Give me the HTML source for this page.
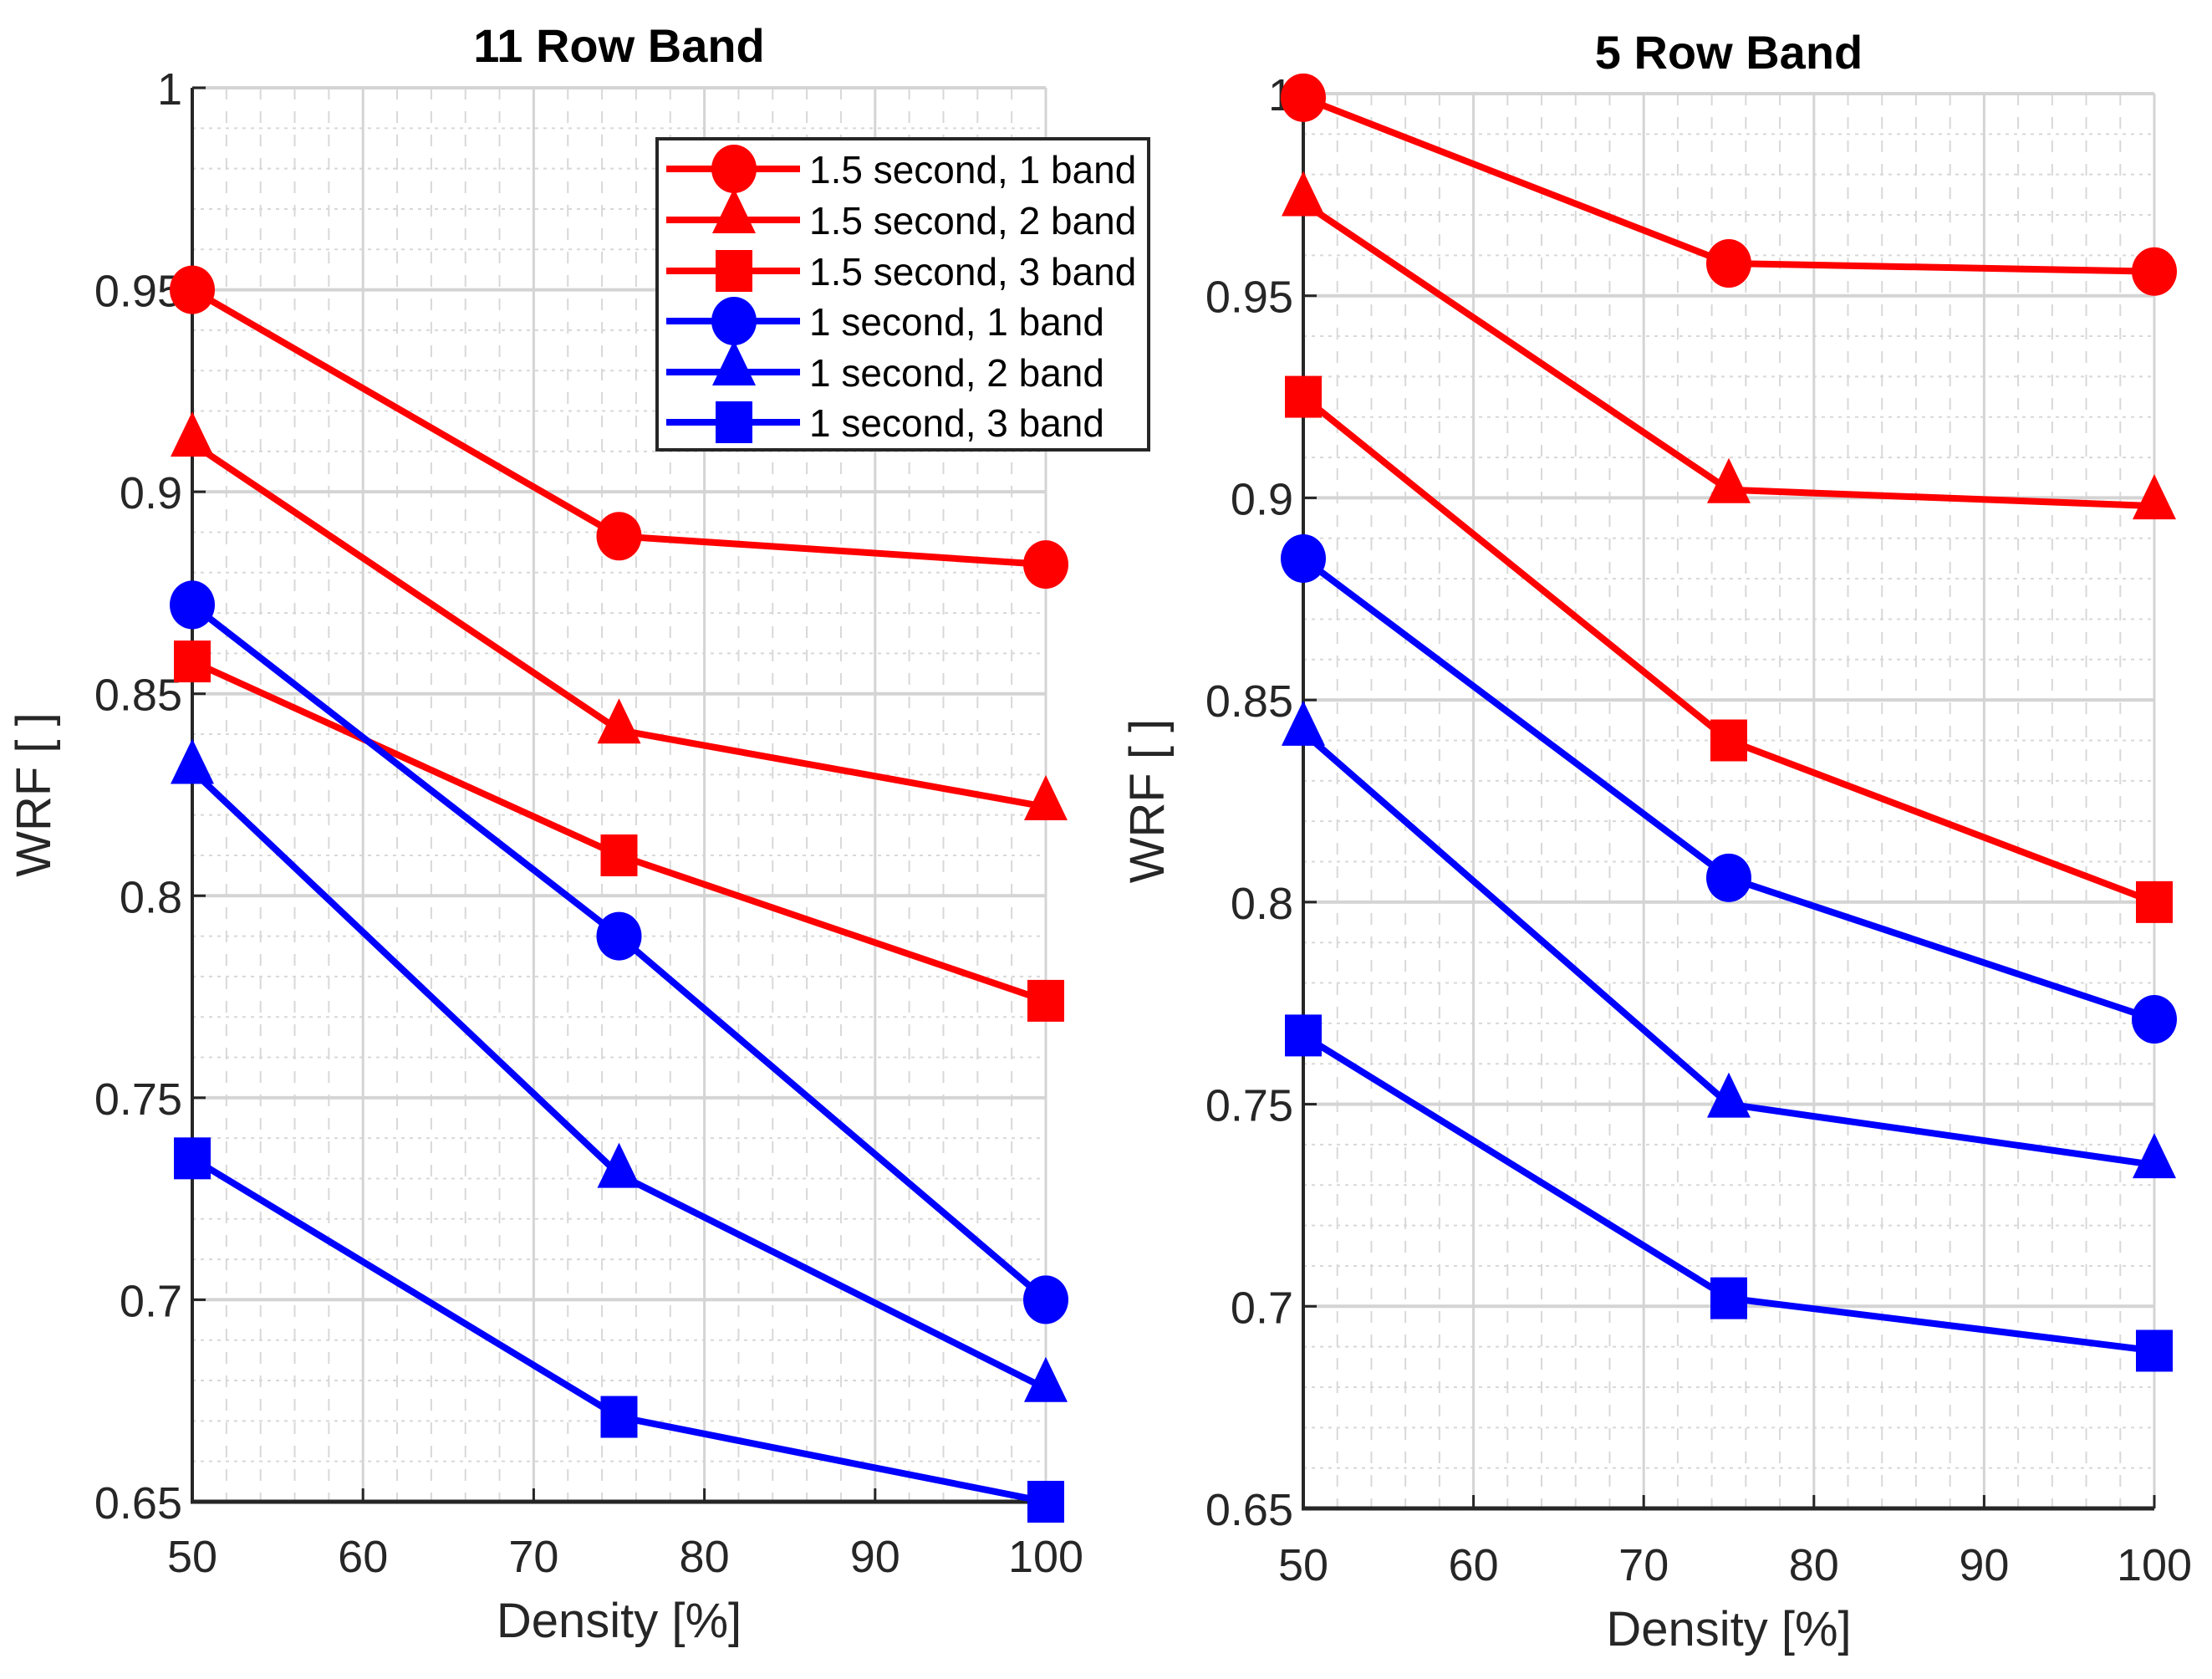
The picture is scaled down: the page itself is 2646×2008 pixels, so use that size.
<!DOCTYPE html>
<html><head><meta charset="utf-8"><style>
html,body{margin:0;padding:0;background:#fff;}
svg{display:block;font-family:"Liberation Sans",Arial,sans-serif;}
</style></head><body>
<svg id="chart" width="2646" height="2008" viewBox="0 0 2646 2008"></svg>
<script>
const xTicks=[50,60,70,80,90,100];
const yTicks=[0.65,0.7,0.75,0.8,0.85,0.9,0.95,1];
const yTickLabels=["0.65","0.7","0.75","0.8","0.85","0.9","0.95","1"];
const densities=[50,75,100];
const seriesNames=["1.5 second, 1 band","1.5 second, 2 band","1.5 second, 3 band","1 second, 1 band","1 second, 2 band","1 second, 3 band"];
const seriesColors=["#ff0000","#ff0000","#ff0000","#0000ff","#0000ff","#0000ff"];
const seriesMarkers=["circle","triangle","square","circle","triangle","square"];
const left_r15_b1=[0.950,0.889,0.882];
const left_r15_b2=[0.912,0.841,0.822];
const left_r15_b3=[0.858,0.810,0.774];
const left_r1_b1=[0.872,0.790,0.700];
const left_r1_b2=[0.831,0.731,0.678];
const left_r1_b3=[0.735,0.671,0.650];
const right_r15_b1=[0.999,0.958,0.956];
const right_r15_b2=[0.973,0.902,0.898];
const right_r15_b3=[0.925,0.840,0.800];
const right_r1_b1=[0.885,0.806,0.771];
const right_r1_b2=[0.842,0.750,0.735];
const right_r1_b3=[0.767,0.702,0.689];
const leftSeries=[left_r15_b1,left_r15_b2,left_r15_b3,left_r1_b1,left_r1_b2,left_r1_b3];
const rightSeries=[right_r15_b1,right_r15_b2,right_r15_b3,right_r1_b1,right_r1_b2,right_r1_b3];

const NS="http://www.w3.org/2000/svg";
const svg=document.getElementById('chart');
function mk(tag,attrs,parent){const e=document.createElementNS(NS,tag);for(const k in attrs)e.setAttribute(k,attrs[k]);(parent||svg).appendChild(e);return e;}

function marker(g,type,cx,cy,color){
  let m;
  if(type==="circle") m=mk('ellipse',{cx:cx,cy:cy,rx:27,ry:29,fill:color},g);
  else if(type==="square") m=mk('rect',{x:cx-22,y:cy-25,width:44,height:50,fill:color},g);
  else m=mk('polygon',{points:`${cx},${cy-38} ${cx+26},${cy+16} ${cx-26},${cy+16}`,fill:color},g);
  return m;
}

function drawPanel(name,title,L,R,T,B,series,wrfX,titleY,xlabY,tickY){
  const g=mk('g',{});
  
  
  const xs=v=>L+(v-50)/50*(R-L);
  const ys=v=>B-(v-0.65)/0.35*(B-T);
  for(let v=52;v<100;v+=2){ if(v%10===0)continue;
    const l=mk('line',{x1:xs(v),x2:xs(v),y1:T,y2:B,stroke:'#d8d8d8','stroke-width':2,'stroke-dasharray':'14 14'},g);
    }
  for(let i=1;i<35;i++){ if(i%5===0)continue; const v=0.65+i*0.01;
    const l=mk('line',{x1:L,x2:R,y1:ys(v),y2:ys(v),stroke:'#d8d8d8','stroke-width':2,'stroke-dasharray':'4 6'},g);
    }
  xTicks.forEach(v=>{const l=mk('line',{x1:xs(v),x2:xs(v),y1:T,y2:B,stroke:'#d4d4d4','stroke-width':3},g);
    });
  yTicks.forEach(v=>{const l=mk('line',{x1:L,x2:R,y1:ys(v),y2:ys(v),stroke:'#d4d4d4','stroke-width':4},g);
    });
  const ax=mk('line',{x1:L,x2:L,y1:T,y2:B+2,stroke:'#262626','stroke-width':4},g);
  
  const bx=mk('line',{x1:L-2,x2:R,y1:B,y2:B,stroke:'#262626','stroke-width':5},g);
  
  xTicks.forEach(v=>{mk('line',{x1:xs(v),x2:xs(v),y1:B,y2:B-16,stroke:'#262626','stroke-width':3},g);
    const t=mk('text',{x:xs(v),y:tickY,'text-anchor':'middle','font-size':54,fill:'#262626'},g);t.textContent=v;
    });
  yTicks.forEach((v,i)=>{mk('line',{x1:L,x2:L+16,y1:ys(v),y2:ys(v),stroke:'#262626','stroke-width':3},g);
    const t=mk('text',{x:L-12,y:ys(v)+20,'text-anchor':'end','font-size':54,fill:'#262626'},g);t.textContent=yTickLabels[i];
    });
  const tt=mk('text',{x:(L+R)/2,y:titleY,'text-anchor':'middle','font-size':56,'font-weight':'bold',fill:'#000'},g);tt.textContent=title;
  
  const xl=mk('text',{x:(L+R)/2,y:xlabY,'text-anchor':'middle','font-size':58,fill:'#262626'},g);xl.textContent='Density [%]';
  
  const yl=mk('text',{x:wrfX,y:(T+B)/2,'text-anchor':'middle','font-size':58,fill:'#262626',transform:`rotate(-90 ${wrfX} ${(T+B)/2})`},g);yl.textContent='WRF [ ]';
  
  series.forEach((vals,si)=>{
    const sg=mk('g',{},g);
    
    
    const pts=vals.map((v,i)=>xs(densities[i])+','+ys(v)).join(' ');
    const pl=mk('polyline',{points:pts,fill:'none',stroke:seriesColors[si],'stroke-width':8,'stroke-linejoin':'round'},sg);
    
    vals.forEach((v,i)=>{const m=marker(sg,seriesMarkers[si],xs(densities[i]),ys(v),seriesColors[si]);
      });
  });
  return g;
}

drawPanel('left-panel-11-row-band','11 Row Band',230,1251,105,1796,leftSeries,60,74,1958,1880);
drawPanel('right-panel-5-row-band','5 Row Band',1559,2577,112,1804,rightSeries,1392,82,1968,1890);

const lg=mk('g',{});


mk('rect',{x:786,y:166,width:588,height:372,fill:'#fff',stroke:'#262626','stroke-width':4},lg);
const legY=[202,263,324,384,445,505];
seriesNames.forEach((nm,i)=>{
  const eg=mk('g',{},lg);
  
  
  mk('line',{x1:797,x2:957,y1:legY[i],y2:legY[i],stroke:seriesColors[i],'stroke-width':8},eg);
  marker(eg,seriesMarkers[i],878,legY[i],seriesColors[i]);
  const t=mk('text',{x:968,y:legY[i]+17,'font-size':46,fill:'#000'},eg);t.textContent=nm;
});
</script>
</body></html>
